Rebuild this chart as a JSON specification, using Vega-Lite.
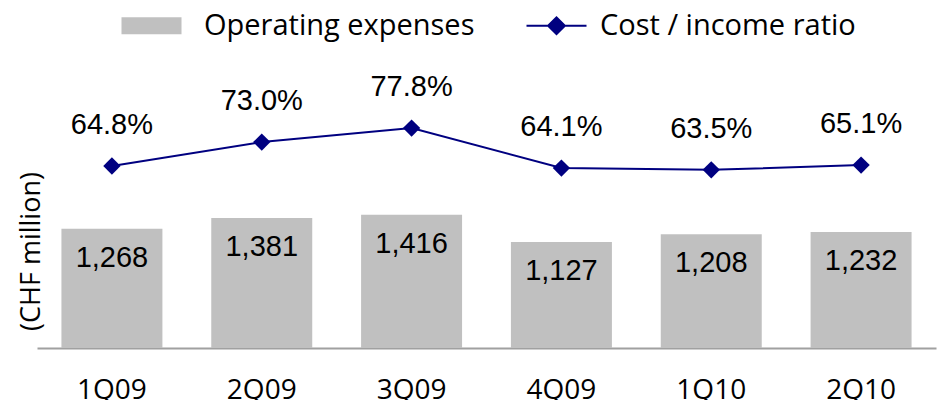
{
  "$schema": "https://vega.github.io/schema/vega-lite/v6.json",
  "width": 899,
  "height": 288,
  "autosize": {"type": "none"},
  "padding": {"left": 37, "top": 60, "right": 1, "bottom": 52},
  "background": "white",
  "config": {
    "view": {"stroke": null},
    "axis": {"grid": false}
  },
  "data": {
    "values": [
      {"q": "1Q09", "opex": 1268, "ratio": 0.648},
      {"q": "2Q09", "opex": 1381, "ratio": 0.730},
      {"q": "3Q09", "opex": 1416, "ratio": 0.778},
      {"q": "4Q09", "opex": 1127, "ratio": 0.641},
      {"q": "1Q10", "opex": 1208, "ratio": 0.635},
      {"q": "2Q10", "opex": 1232, "ratio": 0.651}
    ]
  },
  "encoding": {
    "x": {
      "field": "q", "type": "nominal", "sort": null,
      "scale": {"paddingInner": 0.326, "paddingOuter": 0.163},
      "axis": {
        "title": null, "labelAngle": 0, "ticks": false, "tickSize": 0,
        "labelPadding": 28, "labelFont": "Open Sans", "labelFontSize": 28,
        "labelColor": "#000000", "domainColor": "#a0a0a0", "domainWidth": 2
      }
    }
  },
  "layer": [
    {
      "layer": [
        {
          "mark": {"type": "bar", "color": "#c0c0c0"},
          "encoding": {
            "y": {
              "field": "opex", "type": "quantitative",
              "scale": {"domain": [0, 3060], "nice": false},
              "axis": {
                "title": "(CHF million)", "labels": false, "ticks": false, "domain": false,
                "titleFont": "Open Sans", "titleFontSize": 27, "titleFontWeight": "normal",
                "titleColor": "#000000", "titleX": -6, "titleY": 191, "titleAngle": -90,
                "titleAlign": "center", "titleBaseline": "middle"
              }
            },
            "color": {
              "datum": "Operating expenses",
              "scale": {"domain": ["Operating expenses", "Cost / income ratio"], "range": ["#c0c0c0", "#000080"]},
              "legend": {
                "title": null, "orient": "none", "legendX": 100, "legendY": -49,
                "direction": "horizontal", "columns": 2, "columnPadding": 47, "padding": 0,
                "symbolSize": 3600, "symbolStrokeWidth": 2, "labelOffset": 38, "labelLimit": 0,
                "labelFont": "Open Sans", "labelFontSize": 29, "labelColor": "#000000",
                "encode": {
                  "symbols": {
                    "update": {
                      "shape": {"signal": "datum.value === 'Operating expenses' ? 'M-1,-0.28H1V0.28H-1Z' : 'M-1,0H1M-0.28,0L0,-0.28L0.28,0L0,0.28Z'"},
                      "fill": {"signal": "datum.value === 'Operating expenses' ? '#c0c0c0' : '#000080'"},
                      "stroke": {"signal": "datum.value === 'Operating expenses' ? null : '#000080'"},
                      "strokeWidth": {"signal": "datum.value === 'Operating expenses' ? 0 : 2"},
                      "opacity": {"value": 1},
                      "fillOpacity": {"value": 1}
                    }
                  },
                  "labels": {
                    "update": {
                      "dx": {"signal": "datum.value === 'Operating expenses' ? 0 : -9"}
                    }
                  }
                }
              }
            }
          }
        },
        {
          "mark": {"type": "text", "font": "Liberation Sans", "fontSize": 29, "color": "#000000", "baseline": "middle", "dy": 29},
          "encoding": {
            "y": {"field": "opex", "type": "quantitative"},
            "text": {"field": "opex", "type": "quantitative", "format": ","}
          }
        }
      ]
    },
    {
      "layer": [
        {
          "mark": {"type": "line", "strokeWidth": 2},
          "encoding": {
            "y": {"field": "ratio", "type": "quantitative", "scale": {"domain": [0.0247, 1.011], "nice": false, "zero": false}, "axis": null},
            "color": {"datum": "Cost / income ratio"}
          }
        },
        {
          "mark": {"type": "point", "shape": "diamond", "filled": true, "size": 300, "opacity": 1},
          "encoding": {
            "y": {"field": "ratio", "type": "quantitative"},
            "color": {"datum": "Cost / income ratio"}
          }
        },
        {
          "mark": {"type": "text", "font": "Liberation Sans", "fontSize": 29, "color": "#000000", "baseline": "middle", "dy": -41},
          "encoding": {
            "y": {"field": "ratio", "type": "quantitative"},
            "text": {"field": "ratio", "type": "quantitative", "format": ".1%"}
          }
        }
      ]
    }
  ],
  "resolve": {"scale": {"y": "independent"}}
}
